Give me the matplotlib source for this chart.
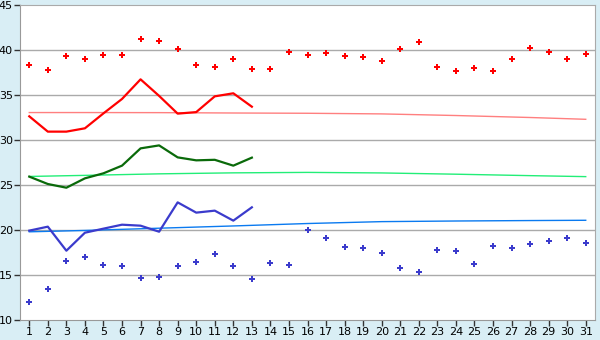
import numpy as np
import matplotlib.pyplot as plt

# data
days = np.arange(1, 32)
max_dots = [38.3, 37.75, 39.3, 38.97, 39.4, 39.5, 41.2, 40.96, 40.07, 38.3,
            38.07, 38.97, 37.85, 37.85, 39.74, 39.4, 39.63, 39.3, 39.18, 38.74,
            40.07, 40.85, 38.07, 37.63, 37.96, 37.63, 38.97, 40.19, 39.74, 38.97, 39.52]
min_dots = [11.96, 13.41, 16.52, 16.96, 16.07, 15.96, 14.63, 14.74, 15.96, 16.41,
            17.3, 15.96, 14.52, 16.3, 16.07, 19.96, 19.07, 18.07, 17.96, 17.41,
            15.74, 15.3, 17.74, 17.63, 16.19, 18.19, 17.96, 18.41, 18.74, 19.07, 18.52]

line_days = np.arange(1, 14)
max_line = [32.63, 30.93, 30.93, 31.3, 32.96, 34.56, 36.74, 34.9, 32.93, 33.1, 34.85, 35.19, 33.7]
mean_line = [25.93, 25.11, 24.7, 25.74, 26.3, 27.15, 29.07, 29.4, 28.07, 27.74, 27.8, 27.15, 28.04]
min_line = [19.93, 20.37, 17.7, 19.7, 20.15, 20.59, 20.48, 19.81, 23.07, 21.93, 22.15, 21.04, 22.52]

# trend lines, values read at a few days
trend_days = [1, 4, 8, 12, 16, 20, 24, 28, 31]
max_trend = [33.05, 33.05, 33.04, 33.0, 32.97, 32.9, 32.72, 32.5, 32.3]
mean_trend = [25.95, 26.07, 26.24, 26.35, 26.4, 26.34, 26.2, 26.04, 25.93]
min_trend = [19.8, 19.95, 20.2, 20.45, 20.72, 20.93, 21.0, 21.05, 21.08]

fig = plt.figure(figsize=(6, 3.4), dpi=100, facecolor='#D9EEF5')
ax = fig.add_axes([20/600, 20/340, 575/600, 315/340])
ax.set_facecolor('white')

for y in range(15, 45, 5):
    ax.axhline(y, color='#AAAAAA', lw=1, zorder=0)

ax.plot(trend_days, max_trend, color='#FF7F7F', lw=1)
ax.plot(trend_days, mean_trend, color='#22EE77', lw=1)
ax.plot(trend_days, min_trend, color='#0A7AF0', lw=1)

ax.plot(line_days, max_line, color='#FF0000', lw=1.6)
ax.plot(line_days, mean_line, color='#0A6A0A', lw=1.6)
ax.plot(line_days, min_line, color='#3B3BCC', lw=1.6)

ax.plot(days, max_dots, 'P', color='#FF0000', ms=5, mew=0, ls='none')
ax.plot(days, min_dots, 'P', color='#3B3BCC', ms=5, mew=0, ls='none')

ax.set_xlim(0.5, 31.5)
ax.set_ylim(10, 45)
ax.set_xticks(days)
ax.set_yticks(range(10, 50, 5))
ax.tick_params(labelsize=8, length=4, width=1, color='#333333', pad=1)

for s in ['top', 'right']:
    ax.spines[s].set_color('#AAAAAA')
for s in ['left', 'bottom']:
    ax.spines[s].set_color('#999999')

fig.savefig('out.png', dpi=100, facecolor=fig.get_facecolor())
